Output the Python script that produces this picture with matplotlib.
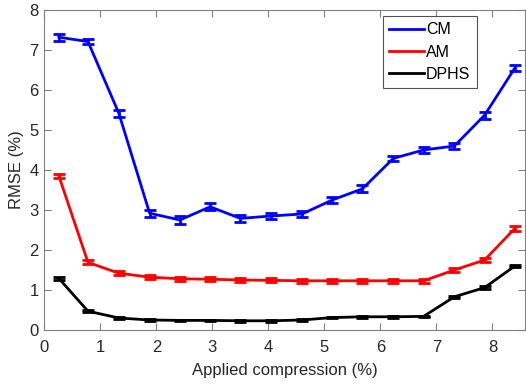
import matplotlib
matplotlib.use("Agg")
import matplotlib.pyplot as plt
from matplotlib.lines import Line2D

plt.rcParams['font.family'] = ['Liberation Sans', 'DejaVu Sans']

# Applied compression levels (%)
compression = [0.26, 0.78, 1.33, 1.88, 2.42, 2.96, 3.50, 4.05,
               4.60, 5.14, 5.68, 6.23, 6.77, 7.32, 7.86, 8.40]

# RMSE (%) for each method
rmse_cm = [7.32, 7.21, 5.42, 2.92, 2.75, 3.08, 2.79, 2.85,
           2.90, 3.25, 3.53, 4.29, 4.50, 4.60, 5.37, 6.55]
rmse_am = [3.85, 1.69, 1.42, 1.32, 1.28, 1.27, 1.25, 1.24,
           1.23, 1.23, 1.23, 1.23, 1.23, 1.50, 1.75, 2.54]
rmse_dphs = [1.29, 0.47, 0.30, 0.25, 0.24, 0.24, 0.23, 0.23,
             0.25, 0.31, 0.33, 0.33, 0.34, 0.83, 1.06, 1.60]

# Standard deviations
err_cm = [0.09, 0.07, 0.09, 0.09, 0.09, 0.09, 0.09, 0.08,
          0.07, 0.08, 0.09, 0.07, 0.07, 0.07, 0.09, 0.08]
err_am = [0.05, 0.05, 0.05, 0.05, 0.05, 0.05, 0.05, 0.05,
          0.05, 0.05, 0.05, 0.05, 0.05, 0.06, 0.06, 0.06]
err_dphs = [0.03, 0.03, 0.02, 0.02, 0.02, 0.02, 0.02, 0.02,
            0.02, 0.02, 0.02, 0.02, 0.02, 0.03, 0.03, 0.03]

series = [
    ("CM", rmse_cm, err_cm, "#0000ff"),
    ("AM", rmse_am, err_am, "#ff0000"),
    ("DPHS", rmse_dphs, err_dphs, "#000000"),
]

fig = plt.figure(figsize=(5.26, 3.89), dpi=100)
ax = fig.add_axes([0.0842, 0.1517, 0.9138, 0.8226])

for name, vals, errs, col in series:
    ax.errorbar(compression, vals, yerr=errs, color=col, lw=2,
                elinewidth=2, capsize=4, capthick=2, label=name)

ax.set_xlim(0, 8.58)
ax.set_ylim(0, 8)
ax.set_xticks(range(0, 9))
ax.set_yticks(range(0, 9))

axis_col = "#808080"
text_col = "#262626"
for s in ax.spines.values():
    s.set_color(axis_col)
    s.set_linewidth(0.8)
ax.tick_params(direction="in", top=True, right=True, length=5,
               color=axis_col, labelcolor=text_col, labelsize=12)
ax.tick_params(axis="x", pad=7)
ax.tick_params(axis="y", pad=4)

ax.set_xlabel("Applied compression (%)", fontsize=12, color=text_col, labelpad=6)
ax.set_ylabel("RMSE (%)", fontsize=12, color=text_col, labelpad=4)

handles = [Line2D([], [], color=c, lw=2) for _, _, _, c in series]
leg = ax.legend(handles, [s[0] for s in series], loc="upper right",
                bbox_to_anchor=(0.90, 0.981), fontsize=11.5, frameon=True,
                fancybox=False, edgecolor="#262626", handlelength=2.2,
                handletextpad=0.12, borderpad=0.4, labelspacing=0.45,
                borderaxespad=0)
leg.get_frame().set_linewidth(0.8)

fig.savefig("out.png", dpi=100)
